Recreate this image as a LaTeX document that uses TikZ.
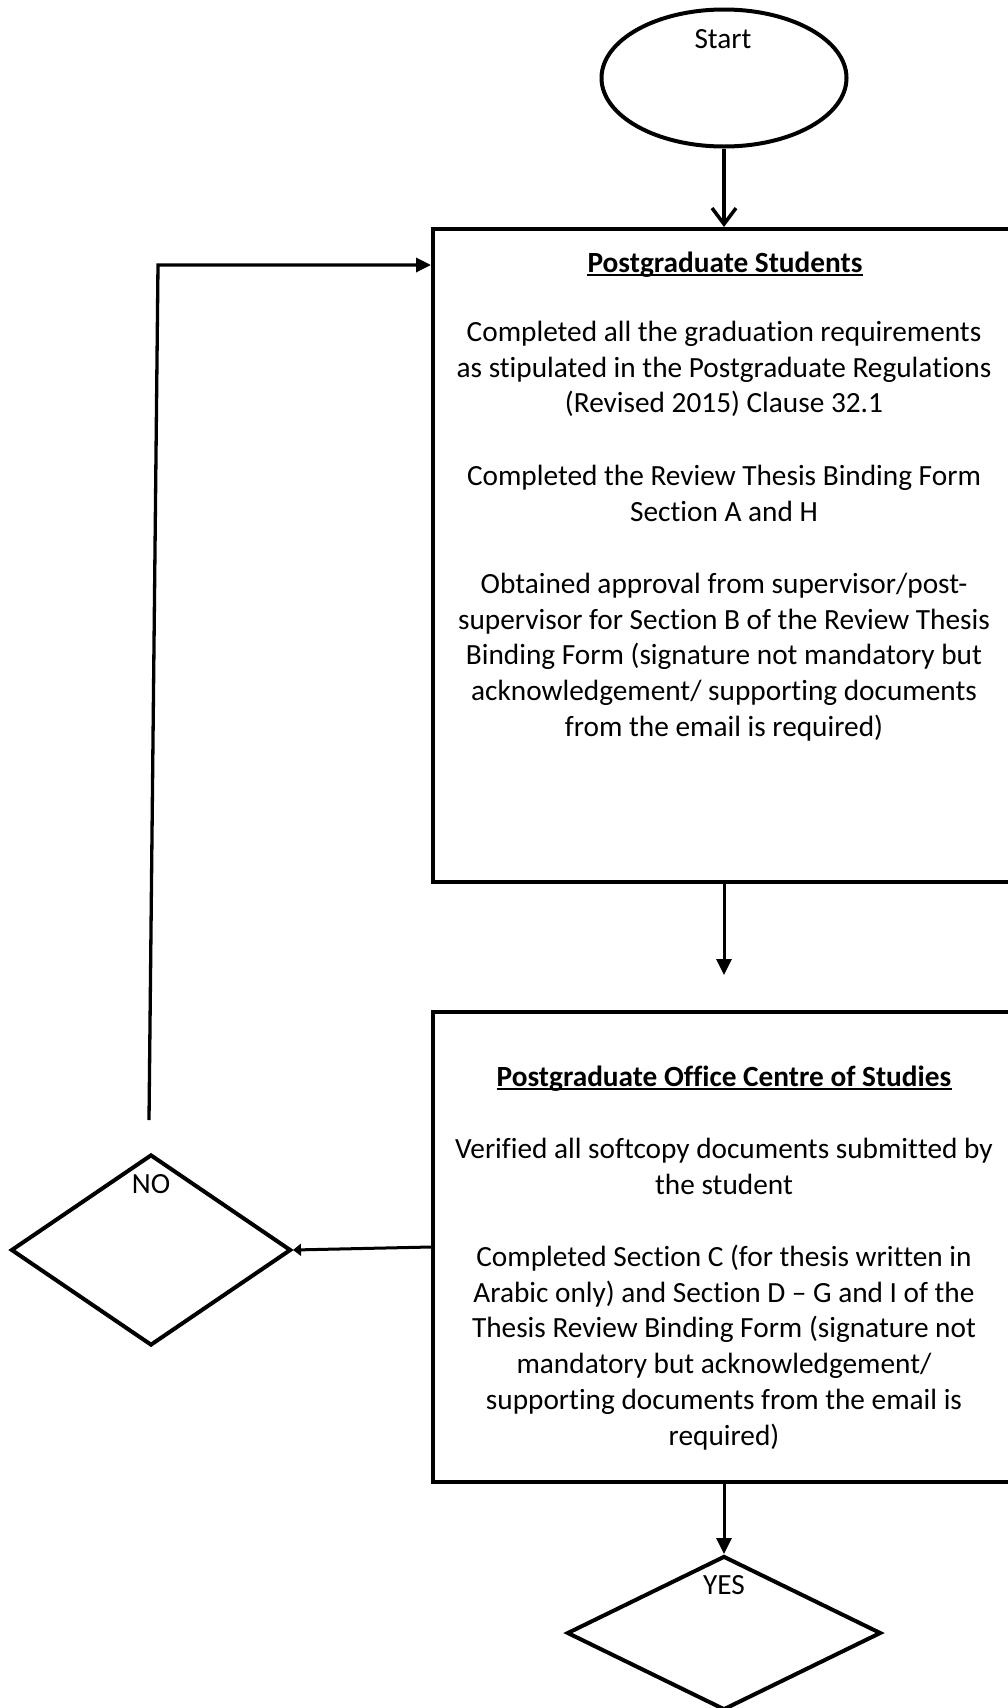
\documentclass[tikz,border=0pt]{standalone}
\usepackage{fontspec}
\setmainfont{Carlito}[Ligatures={TeX,NoCommon,NoContextual}]
\usetikzlibrary{shapes.geometric,arrows.meta}
\newcommand\fs{\fontsize{29.3}{35.8}\selectfont}
\newcommand\nolig{\kern0pt}
\begin{document}
\begin{tikzpicture}[x=1pt,y=-1pt,
  shapeline/.style={draw=black,line width=4pt,inner sep=0pt},
  conn/.style={line width=3pt},
  tip/.style={-{Triangle[length=16pt,width=15pt]}},
  txt/.style={inner sep=0pt,align=center,font=\fs},
  ttl/.style={inner sep=0pt,font=\fs\bfseries},
  uline/.style={line width=1.8pt}
]
\useasboundingbox (0,0) rectangle (1008,1708);
% shapes
\node[shapeline, ellipse, minimum width=245pt, minimum height=137pt] (start) at (724,78) {};
\node[shapeline, rectangle, minimum width=582pt, minimum height=653pt] (box1) at (724,555.5) {};
\node[shapeline, rectangle, minimum width=582pt, minimum height=470pt] (box2) at (724,1247) {};
\node[shapeline, diamond, minimum width=280pt, minimum height=191pt] (no) at (151,1250) {};
\node[shapeline, diamond, minimum width=314pt, minimum height=154pt] (yes) at (724,1633) {};
% labels
\node[txt, anchor=base] (starttxt) at (723,48) {Start};
\node[txt, anchor=base] (notxt) at (151,1193) {NO};
\node[txt, anchor=base] (yestxt) at (724,1594) {YES};
% box 1 text
\node[ttl, anchor=base] (t1) at (725,272) {Postgraduate Students};
\draw[uline] ([yshift=-3pt]t1.base west) -- ([yshift=-3pt]t1.base east);
\node[txt, anchor=north] (p1) at (724,316) {\strut Completed all the gradua\nolig tion requirements\\as stipulated in the Postgraduate Regula\nolig tions\\(Revised 2015) Clause 32.1};
\node[txt, anchor=north] (p2) at (724,460) {\strut Completed the Review Thesis Binding Form\\Sec\nolig tion A and H};
\node[txt, anchor=north] (p3) at (724,568) {\strut Obtained approval from supervisor/post-\\supervisor for Sec\nolig tion B of the Review Thesis\\Binding Form (signature not mandatory but\\acknowledgement/ supporting documents\\from the email is required)};
% box 2 text
\node[ttl, anchor=base] (t2) at (724,1086) {Postgraduate O\nolig f\nolig fice Centre of Studies};
\draw[uline] ([yshift=-3pt]t2.base west) -- ([yshift=-3pt]t2.base east);
\node[txt, anchor=north] (q1) at (724,1133) {\strut Veri\nolig fied all sof\nolig tcopy documents submit\nolig ted by\\the student};
\node[txt, anchor=north] (q2) at (724,1241) {\strut Completed Sec\nolig tion C (for thesis writ\nolig ten in\\Arabic only) and Sec\nolig tion D – G and I of the\\Thesis Review Binding Form (signature not\\mandatory but acknowledgement/\\supporting documents from the email is\\required)};
% connectors
\draw[line width=3.5pt,-{Straight Barb[length=16pt,width=24pt]}] (start.south) -- (box1.north);
\coordinate (gapend) at (724,975);
\draw[conn,tip] (box1.south) -- (gapend);
\draw[conn,-{Triangle[length=8pt,width=12pt]}] (box2.west) -- (no.east);
\coordinate (fbstart) at (149,1120);
\coordinate (fbcorner) at (158,265);
\draw[line width=3.3pt,-{Triangle[length=15pt,width=14pt]}] (fbstart) -- (fbcorner) -- (box1.west |- fbcorner);
\draw[conn,tip] (box2.south) -- (yes.north);
\end{tikzpicture}
\end{document}
